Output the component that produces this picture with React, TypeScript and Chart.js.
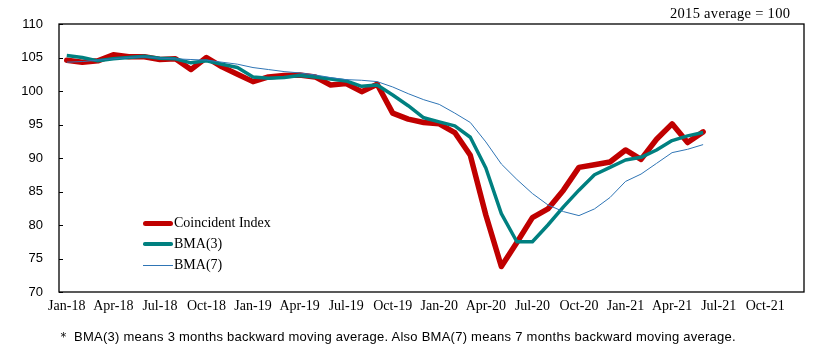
import React, { useEffect, useRef } from "react";
import { Chart, registerables } from "chart.js";

Chart.register(...registerables);

const months = [
  "Jan-18","Feb-18","Mar-18","Apr-18","May-18","Jun-18","Jul-18","Aug-18","Sep-18","Oct-18","Nov-18","Dec-18",
  "Jan-19","Feb-19","Mar-19","Apr-19","May-19","Jun-19","Jul-19","Aug-19","Sep-19","Oct-19","Nov-19","Dec-19",
  "Jan-20","Feb-20","Mar-20","Apr-20","May-20","Jun-20","Jul-20","Aug-20","Sep-20","Oct-20","Nov-20","Dec-20",
  "Jan-21","Feb-21","Mar-21","Apr-21","May-21","Jun-21","Jul-21","Aug-21","Sep-21","Oct-21","Nov-21","Dec-21",
];

const coincidentIndex = [
  104.6, 104.3, 104.5, 105.4, 105.1, 105.1, 104.7, 104.8, 103.2, 105.0, 103.6, 102.5,
  101.4, 102.1, 102.3, 102.4, 102.1, 100.9, 101.1, 99.9, 101.0, 96.7, 95.8, 95.3,
  95.1, 93.8, 90.4, 81.5, 73.8, 77.4, 81.1, 82.4, 85.2, 88.6, 89.0, 89.4,
  91.2, 89.8, 92.8, 95.1, 92.3, 93.9,
];

const bma3 = [
  105.3, 105.0, 104.5, 104.8, 105.0, 105.2, 104.9, 104.8, 104.2, 104.5, 104.0, 103.5,
  102.1, 101.9, 102.0, 102.3, 102.1, 101.8, 101.5, 100.7, 100.9, 99.4, 97.8, 96.0,
  95.4, 94.8, 93.1, 88.5, 81.7, 77.5, 77.5, 80.0, 82.7, 85.2, 87.5, 88.6,
  89.7, 90.1, 91.2, 92.6, 93.3, 93.8,
];

const bma7 = [
  104.3, 104.4, 104.6, 104.8, 105.0, 105.1, 104.9, 104.8, 104.7, 104.6, 104.3, 104.0,
  103.5, 103.2, 102.9, 102.7, 102.4, 102.0, 101.7, 101.6, 101.4, 100.6, 99.6, 98.7,
  98.0, 96.7, 95.3, 92.4, 89.1, 86.8, 84.7, 83.0, 82.0, 81.4, 82.4, 84.1,
  86.5, 87.6, 89.2, 90.8, 91.3, 92.0,
];

const yTicks = [70, 75, 80, 85, 90, 95, 100, 105, 110];

const seriesNames = ["Coincident Index", "BMA(3)", "BMA(7)"];
const RED = "#C00000";
const TEAL = "#008080";
const BLUE = "#2F75B5";

const framePlugin = {
  id: "frame",
  afterDraw(chart: any) {
    const { ctx, chartArea } = chart;
    const y = chart.scales.y;
    ctx.save();
    ctx.strokeStyle = "#000";
    ctx.lineWidth = 1.3;
    ctx.strokeRect(chartArea.left, chartArea.top, chartArea.right - chartArea.left, chartArea.bottom - chartArea.top);
    ctx.lineWidth = 1;
    for (const v of yTicks) {
      const py = Math.round(y.getPixelForValue(v)) + 0.5;
      ctx.beginPath();
      ctx.moveTo(chartArea.left, py);
      ctx.lineTo(chartArea.left + 4, py);
      ctx.stroke();
    }
    ctx.restore();
  },
};

export default function App() {
  const ref = useRef<HTMLCanvasElement | null>(null);

  useEffect(() => {
    if (!ref.current) return;
    const chart = new Chart(ref.current, {
      type: "line",
      data: {
        labels: months,
        datasets: [
          { label: seriesNames[0], data: coincidentIndex, borderColor: RED, backgroundColor: RED, borderWidth: 5.5, pointRadius: 0, tension: 0, order: 3, borderJoinStyle: "round", borderCapStyle: "round" },
          { label: seriesNames[1], data: bma3, borderColor: TEAL, backgroundColor: TEAL, borderWidth: 3.5, pointRadius: 0, tension: 0, order: 2, borderJoinStyle: "round" },
          { label: seriesNames[2], data: bma7, borderColor: BLUE, backgroundColor: BLUE, borderWidth: 1, pointRadius: 0, tension: 0, order: 1 },
        ],
      },
      options: {
        responsive: false,
        animation: false,
        layout: { padding: { top: 24, right: 33, bottom: 30, left: 0 } },
        plugins: { legend: { display: false }, tooltip: { enabled: false } },
        scales: {
          x: {
            type: "category",
            offset: true,
            grid: { display: false, drawTicks: false },
            border: { display: false },
            afterFit: (s: any) => { s.height = 30; },
            ticks: {
              autoSkip: false,
              maxRotation: 0,
              minRotation: 0,
              padding: 6,
              color: "#000",
              font: { family: "'Liberation Serif', serif", size: 14 },
              callback: (_v: any, i: number) => (i % 3 === 0 ? months[i] : ""),
            },
          },
          y: {
            min: 70,
            max: 110,
            grid: { display: false, drawTicks: false },
            border: { display: false },
            afterFit: (s: any) => { s.width = 59; },
            afterBuildTicks: (s: any) => { s.ticks = yTicks.map((v) => ({ value: v })); },
            ticks: {
              padding: 16,
              color: "#000",
              font: { family: "'Liberation Sans', sans-serif", size: 13 },
            },
          },
        },
      },
      plugins: [framePlugin],
    });
    return () => chart.destroy();
  }, []);

  const legendRows = [
    { name: seriesNames[0], color: RED, w: 5, top: 223 },
    { name: seriesNames[1], color: TEAL, w: 3.5, top: 244 },
    { name: seriesNames[2], color: BLUE, w: 1, top: 265 },
  ];

  return (
    <div style={{ position: "absolute", left: 0, top: 0, width: 837, height: 352, background: "#fff" }}>
      <canvas ref={ref} width={837} height={352} style={{ display: "block" }} />
      <div style={{ position: "absolute", left: 670, top: 5, fontFamily: "'Liberation Serif', serif", fontSize: 14.5, letterSpacing: 0.3, whiteSpace: "nowrap", color: "#000" }}>
        2015 average = 100
      </div>
      {legendRows.map((r) => (
        <div key={r.name} style={{ position: "absolute", left: 143, top: r.top - 10, height: 20, display: "flex", alignItems: "center", whiteSpace: "nowrap" }}>
          <div style={{ width: 30, height: r.w, background: r.color, borderRadius: r.w > 2 ? r.w / 2 : 0 }} />
          <span style={{ fontFamily: "'Liberation Serif', serif", fontSize: 14, color: "#000", marginLeft: 1 }}>{r.name}</span>
        </div>
      ))}
      <div style={{ position: "absolute", left: 57, top: 328, fontFamily: "'Liberation Sans', sans-serif", fontSize: 13, letterSpacing: 0.25, whiteSpace: "nowrap", color: "#000" }}>
        ＊ BMA(3) means 3 months backward moving average. Also BMA(7) means 7 months backward moving average.
      </div>
    </div>
  );
}
